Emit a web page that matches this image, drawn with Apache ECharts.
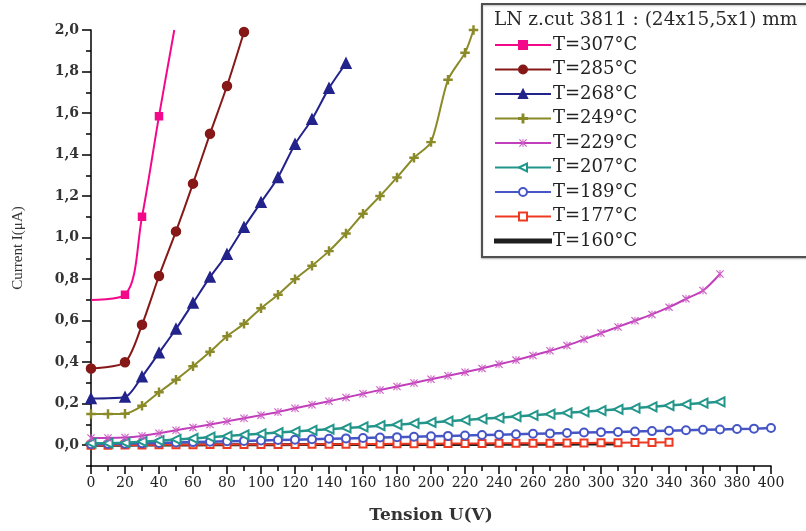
<!DOCTYPE html>
<html><head><meta charset="utf-8">
<script src="https://cdn.jsdelivr.net/npm/echarts@6/dist/echarts.min.js"></script>
<style>html,body{margin:0;padding:0;background:#fff}#c{width:806px;height:531px}</style>
</head><body><div id="c"></div>
<script>
// ---------- data ----------
const legendTitle = 'LN z.cut 3811 : (24x15,5x1) mm';
const xName = 'Tension U(V)';
const yName = 'Current I(\u03bcA)';
const yTickValues = [0, 0.2, 0.4, 0.6, 0.8, 1.0, 1.2, 1.4, 1.6, 1.8, 2.0];

const names = ['T=307°C','T=285°C','T=268°C','T=249°C','T=229°C','T=207°C','T=189°C','T=177°C','T=160°C'];

// measurement voltages (V)
const U10 = [0,10,20,30,40,50,60,70,80,90,100,110,120,130,140,150,160,170,180,190,200,
             210,220,230,240,250,260,270,280,290,300,310,320,330,340,350,360,370,380,390,400];

const u307 = [0, 20, 30, 40, 49];
const i307 = [0.70, 0.725, 1.10, 1.585, 2.0];

const u285 = [0, 20, 30, 40, 50, 60, 70, 80, 90];
const i285 = [0.37, 0.40, 0.58, 0.815, 1.03, 1.26, 1.50, 1.73, 1.99];

const u268 = [0, 20, 30, 40, 50, 60, 70, 80, 90, 100, 110, 120, 130, 140, 150];
const i268 = [0.225, 0.232, 0.33, 0.445, 0.56, 0.685, 0.81, 0.92, 1.05, 1.17, 1.29, 1.45, 1.57, 1.72, 1.84];

const u249 = [0,10,20,30,40,50,60,70,80,90,100,110,120,130,140,150,160,170,180,190,200,210,220,225];
const i249 = [0.15,0.15,0.152,0.19,0.255,0.315,0.38,0.45,0.525,0.585,0.66,0.725,0.80,0.865,0.935,1.02,1.115,1.20,1.29,1.385,1.46,1.76,1.89,2.0];

const i229 = [0.035,0.035,0.037,0.045,0.058,0.072,0.086,0.10,0.115,0.13,0.145,0.16,0.178,0.195,0.212,0.23,0.248,0.266,0.283,0.30,0.318,
              0.335,0.352,0.37,0.39,0.41,0.432,0.455,0.48,0.51,0.54,0.57,0.60,0.63,0.665,0.705,0.745,0.825];

const i207 = [0.010,0.010,0.012,0.017,0.022,0.028,0.033,0.039,0.044,0.050,0.055,0.061,0.066,0.072,0.077,0.083,0.088,0.094,0.099,0.105,0.110,
              0.116,0.121,0.127,0.132,0.138,0.144,0.150,0.156,0.161,0.167,0.173,0.179,0.185,0.191,0.197,0.203,0.209];

const i189 = [0.005,0.006,0.007,0.009,0.011,0.013,0.015,0.017,0.019,0.021,0.023,0.025,0.027,0.029,0.031,0.033,0.035,0.037,0.039,0.041,0.043,
              0.045,0.047,0.049,0.051,0.053,0.055,0.057,0.059,0.061,0.063,0.064,0.066,0.068,0.070,0.072,0.074,0.076,0.078,0.080,0.083];

const i177 = [0.000,0.000,0.001,0.001,0.002,0.002,0.002,0.003,0.003,0.003,0.004,0.004,0.004,0.005,0.005,0.005,0.006,0.006,0.007,0.007,0.007,
              0.008,0.008,0.008,0.009,0.009,0.010,0.010,0.011,0.011,0.012,0.012,0.013,0.013,0.014];

const i160 = [0.000,0.000,0.000,0.001,0.001,0.001,0.001,0.002,0.002,0.002,0.002,0.002,0.003,0.003,0.003,0.003,0.003,0.003,0.004,0.004,0.004,
              0.004,0.004,0.004,0.005,0.005,0.005,0.005,0.005,0.006,0.006,0.006];

// ---------- build ----------
const pair = (u, i) => i.map((v, k) => [u[k], v]);
const SERIF = 'DejaVu Serif';
const TIMES = 'Liberation Serif';
const plusPath = 'path://M4.4,0H5.6V4.4H10V5.6H5.6V10H4.4V5.6H0V4.4H4.4Z';
const starPath = 'path://M1,0L5,4L9,0L10,1L6,5L10,9L9,10L5,6L1,10L0,9L4,5L0,1Z M4.4,0H5.6V10H4.4Z';
const lineIcon = 'path://M0,0H56V3H0Z';

function mk(name, data, color, symbol, size, opts) {
  return Object.assign({
    name, type: 'line', data, symbol, symbolSize: size,
    lineStyle: { color, width: 2 },
    itemStyle: { color, borderColor: color, borderWidth: 1.5 },
    showSymbol: symbol !== 'none',
    smooth: false,
    animation: false
  }, opts || {});
}

const d307 = pair(u307, i307).map((p, k) => (k === 0 || k === u307.length - 1) ? { value: p, symbol: 'none' } : p);

const series = [
  mk(names[8], pair(U10, i160), '#1e1e1e', 'none', 0, { lineStyle: { color: '#1e1e1e', width: 3 } }),
  mk(names[7], pair(U10, i177), '#ee3a22', 'emptyRect', 7),
  mk(names[6], pair(U10, i189), '#4656c6', 'emptyCircle', 8, { lineStyle: { color: '#4656c6', width: 2.5 } }),
  mk(names[5], pair(U10, i207), '#23968b', 'emptyTriangle', 9, { symbolRotate: 90, lineStyle: { color: '#23968b', width: 2.5 } }),
  mk(names[4], pair(U10, i229), '#c23fbb', starPath, 8, { smooth: 0.3, itemStyle: { color: '#cc5cc4' } }),
  mk(names[3], pair(u249, i249), '#8a8a28', plusPath, 8, { smooth: 0.25 }),
  mk(names[2], pair(u268, i268), '#23238c', 'triangle', 10, { smooth: 0.25 }),
  mk(names[1], pair(u285, i285), '#861818', 'circle', 9, { smooth: 0.25 }),
  mk(names[0], d307, '#f4088a', 'rect', 7, { smooth: 0.35 })
];

const legendData = names.map(n => n === names[8] ? { name: n, icon: lineIcon } : n);

const chart = echarts.init(document.getElementById('c'), null, { renderer: 'canvas' });
chart.setOption({
  backgroundColor: '#fff',
  animation: false,
  textStyle: { fontFamily: TIMES },
  grid: { left: 91, right: 35, top: 30, bottom: 65, containLabel: false },
  title: {
    text: legendTitle, left: 489, top: 6,
    textStyle: { fontFamily: SERIF, fontSize: 18.5, fontWeight: 'normal', color: '#2a2a2a' }
  },
  graphic: [{
    type: 'rect', z: -1, silent: true,
    shape: { x: 482, y: 4, width: 340, height: 253 },
    style: { fill: '#fff', stroke: '#505050', lineWidth: 2, shadowColor: 'rgba(0,0,0,0.25)', shadowBlur: 2, shadowOffsetY: 1 }
  }],
  legend: {
    data: legendData, orient: 'vertical', left: 489, top: 30,
    itemWidth: 56, itemHeight: 10, itemGap: 4.5, symbolKeepAspect: true,
    textStyle: { fontFamily: SERIF, fontSize: 18, color: '#222', lineHeight: 20, padding: [0, 0, 0, -3] }
  },
  xAxis: {
    type: 'value', min: 0, max: 400, interval: 20,
    name: xName, nameLocation: 'middle', nameGap: 41,
    nameTextStyle: { fontFamily: SERIF, fontSize: 17, fontWeight: 'bold', color: '#333' },
    axisLine: { onZero: false, lineStyle: { color: '#000', width: 1.5 } },
    axisTick: { length: 8, lineStyle: { color: '#000', width: 1.5 } },
    minorTick: { show: true, splitNumber: 2, length: 5, lineStyle: { color: '#000', width: 1.5 } },
    axisLabel: { fontFamily: SERIF, fontSize: 14, color: '#222', margin: 10 },
    splitLine: { show: false }
  },
  yAxis: [{
    type: 'value', min: -0.1, max: 2.0, interval: 0.1,
    name: yName, nameLocation: 'middle', nameGap: 65, nameRotate: 90,
    nameTextStyle: { fontFamily: TIMES, fontSize: 15, color: '#333' },
    axisLine: { show: true, lineStyle: { color: '#000', width: 1.5 } },
    axisTick: { show: true, length: 5, lineStyle: { color: '#000', width: 1.5 } },
    axisLabel: { show: false },
    splitLine: { show: false }
  }, {
    type: 'value', min: -0.1, max: 2.0, position: 'left', offset: 0,
    axisLine: { show: false },
    axisTick: { show: true, length: 9, customValues: yTickValues, lineStyle: { color: '#000', width: 1.5 } },
    axisLabel: {
      customValues: yTickValues, fontFamily: SERIF, fontSize: 14, fontWeight: 'bold', color: '#333', margin: 12,
      formatter: v => v.toFixed(1).replace('.', ',')
    },
    splitLine: { show: false }
  }],
  series
});
</script>
</body></html>
